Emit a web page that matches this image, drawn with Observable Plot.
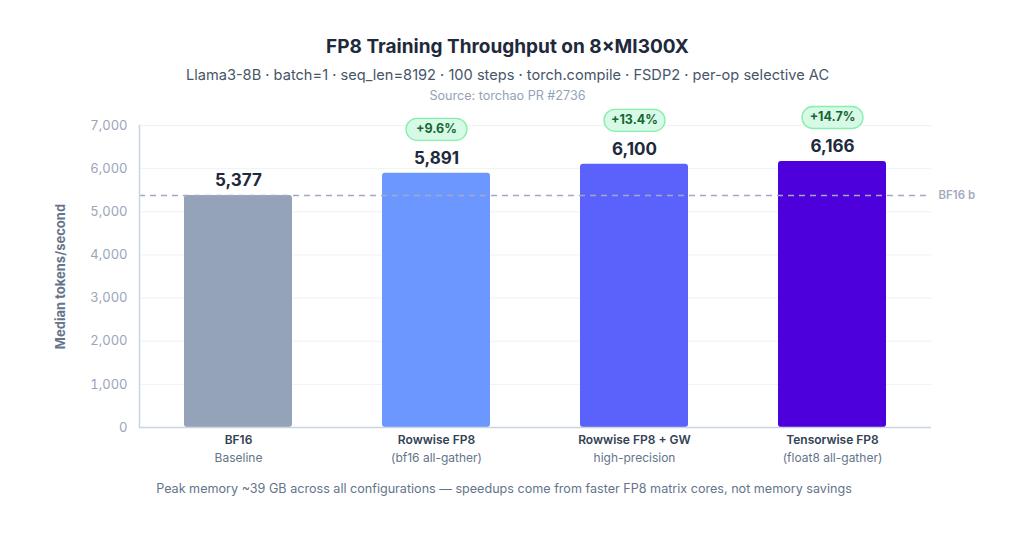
<!DOCTYPE html>
<html>
<head>
<meta charset="utf-8">
<script src="https://cdn.jsdelivr.net/npm/d3@7"></script>
<script src="https://cdn.jsdelivr.net/npm/@observablehq/plot@0.6"></script>
<style>
  html, body { margin: 0; padding: 0; background: #fff; }
  body { width: 1024px; height: 544px; position: relative; font-family: Inter, "Noto Sans", sans-serif; overflow: hidden; }
  .t { position: absolute; left: 40px; width: 935px; text-align: center; white-space: nowrap; }
  #title { top: 35px; line-height: 24px; font-size: 19px; font-weight: 700; color: #1e293b; }
  #sub { top: 66px; line-height: 18px; font-size: 14.6px; color: #475569; }
  #src { top: 89px; line-height: 14px; font-size: 12.6px; color: #94a3b8; }
  #chart { position: absolute; left: 40px; top: 105px; }
  #cap { top: 481px; line-height: 16px; font-size: 12.6px; color: #64748b; left: 40px; width: 928px; }
  #chart svg { overflow: hidden; }
</style>
</head>
<body>
<div class="t" id="title">FP8 Training Throughput on 8×MI300X</div>
<div class="t" id="sub">Llama3-8B · batch=1 · seq_len=8192 · 100 steps · torch.compile · FSDP2 · per-op selective AC</div>
<div class="t" id="src">Source: torchao PR #2736</div>
<div id="chart"></div>
<div class="t" id="cap">Peak memory ~39 GB across all configurations — speedups come from faster FP8 matrix cores, not memory savings</div>
<script>
const categories = ["BF16", "Rowwise FP8", "Rowwise FP8 + GW", "Tensorwise FP8"];
const subLabels = ["Baseline", "(bf16 all-gather)", "high-precision", "(float8 all-gather)"];
const values = [5377, 5891, 6100, 6166];
const colors = ["#94a3b8", "#6b97ff", "#5b61fb", "#4e00dc"];
const yTicks = [0, 1000, 2000, 3000, 4000, 5000, 6000, 7000];
const baselineValue = 5377;
const baselineLabel = "BF16 baseline";

const data = categories.map((c, i) => ({
  cat: c, sub: subLabels[i], value: values[i], color: colors[i],
  gain: i === 0 ? null : "+" + ((values[i] / baselineValue - 1) * 100).toFixed(1) + "%"
}));
const gains = data.filter(d => d.gain);
const fmt = d3.format(",");

// rounded "pill" symbol for the gain badges
const pill = {
  draw(ctx) {
    const w = 61, h = 22, r = 11;
    ctx.moveTo(-w / 2 + r, -h / 2);
    ctx.lineTo(w / 2 - r, -h / 2);
    ctx.arc(w / 2 - r, 0, r, -Math.PI / 2, Math.PI / 2);
    ctx.lineTo(-w / 2 + r, h / 2);
    ctx.arc(-w / 2 + r, 0, r, Math.PI / 2, 3 * Math.PI / 2);
    ctx.closePath();
  }
};

const plot = Plot.plot({
  width: 935,
  height: 370,
  marginLeft: 99,
  marginRight: 44,
  marginTop: 20,
  marginBottom: 48,
  style: { fontFamily: "Inter, 'Noto Sans', sans-serif", background: "transparent" },
  x: { domain: categories, paddingInner: 0.455, paddingOuter: 0.2275, axis: null },
  y: { domain: [0, 7000], axis: null },
  color: { domain: categories, range: colors },
  marks: [
    Plot.gridY(yTicks, { stroke: "#eef1f6", strokeOpacity: 1 }),
    Plot.axisY(yTicks, { tickSize: 0, tickPadding: 12, tickFormat: fmt, fill: "#9aa5bb", fontSize: 13, label: null }),
    Plot.axisY({ ticks: [], tickSize: 0, label: "Median tokens/second", labelAnchor: "center", labelArrow: "none", labelOffset: 84, fill: "#64748b", fontSize: 13, fontWeight: 700 }),
    Plot.barY(data, { x: "cat", y: "value", fill: "cat", rx: 3 }),
    Plot.ruleY([baselineValue], { stroke: "#a3a8c3", strokeWidth: 1.5, strokeDasharray: "6,5" }),
    Plot.text([baselineLabel], { frameAnchor: "right", y: [baselineValue], text: d => d, dx: 7, textAnchor: "start", fill: "#a3aabd", fontSize: 11.5, fontWeight: 600 }),
    Plot.ruleY([0], { stroke: "#cbd5e1", strokeWidth: 1.5 }),
    Plot.frame({ anchor: "left", stroke: "#cbd5e1", strokeWidth: 1.5 }),
    Plot.text(data, { x: "cat", y: "value", text: d => fmt(d.value), dy: -15, fill: "#1e293b", fontSize: 17, fontWeight: 700 }),
    Plot.dot(gains, { x: "cat", y: "value", dy: -44, symbol: pill, r: 10, fill: "#d6fae6", stroke: "#86efac", strokeWidth: 1.3 }),
    Plot.text(gains, { x: "cat", y: "value", text: "gain", dy: -44, fill: "#166534", fontSize: 12.5, fontWeight: 700 }),
    Plot.text(data, { x: "cat", frameAnchor: "bottom", text: "cat", dy: 16, fill: "#334155", fontSize: 12, fontWeight: 600 }),
    Plot.text(data, { x: "cat", frameAnchor: "bottom", text: "sub", dy: 34, fill: "#64748b", fontSize: 12 })
  ]
});
document.getElementById("chart").appendChild(plot);
</script>
</body>
</html>
